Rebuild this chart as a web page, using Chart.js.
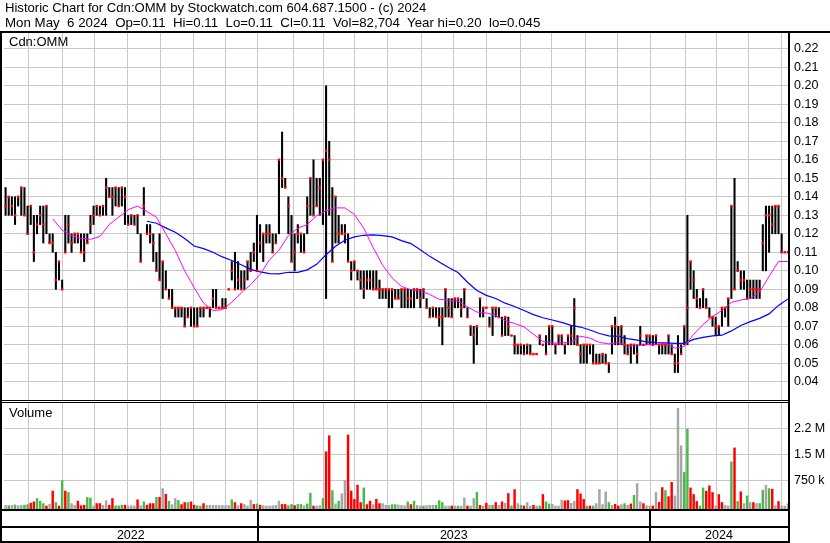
<!DOCTYPE html>
<html>
<head>
<meta charset="utf-8">
<script src="https://cdn.jsdelivr.net/npm/chart.js@4.4.1/dist/chart.umd.min.js"></script>
<style>
html,body{margin:0;padding:0;background:#fff;}
#wrap{position:relative;width:830px;height:543px;overflow:hidden;background:#fff;}
.hdr{position:absolute;left:5px;font-family:"Liberation Sans",Arial,sans-serif;line-height:14.5px;white-space:pre;color:#000;}
#h1{top:1px;font-size:13.1px;}
#h2{top:15.5px;font-size:13.3px;}
canvas{position:absolute;left:0;top:0;}
</style>
</head>
<body>
<div id="wrap">
<canvas id="c" width="830" height="543"></canvas>
<div class="hdr" id="h1">Historic Chart for Cdn:OMM by Stockwatch.com 604.687.1500 - (c) 2024</div>
<div class="hdr" id="h2">Mon May  6 2024  Op=0.11  Hi=0.11  Lo=0.11  Cl=0.11  Vol=82,704  Year hi=0.20  lo=0.045</div>
</div>
<script>
// ---- data (one bar = two trading days, May 2022 .. May 6 2024) ----
const symbol = 'Cdn:OMM';
const high = [
.145,.14,.14,.14,.14,.145,.145,.135,.135,.13, .13,.135,.135,.135,.12,.12,.11,.105,.095,.13,
.13,.12,.12,.12,.12,.12,.12,.13,.135,.135, .135,.135,.15,.145,.145,.145,.145,.145,.145,.13,
.13,.13,.13,.12,.145,.125,.125,.12,.11,.12, .105,.10,.09,.09,.08,.08,.08,.08,.08,.08,
.08,.08,.08,.08,.08,.08,.09,.09,.08,.085, .085,.09,.105,.11,.105,.10,.10,.105,.11,.115,
.13,.125,.12,.125,.125,.12,.12,.16,.175,.15, .14,.13,.12,.125,.12,.12,.14,.15,.16,.15,
.15,.16,.20,.17,.145,.14,.13,.125,.125,.12, .105,.105,.10,.10,.10,.10,.10,.10,.10,.095,
.09,.09,.09,.09,.09,.09,.09,.09,.09,.09, .09,.09,.09,.09,.085,.08,.08,.08,.08,.08,
.09,.085,.085,.085,.085,.085,.09,.08,.07,.07, .07,.085,.08,.08,.075,.08,.08,.08,.075,.075,
.075,.065,.065,.06,.06,.06,.06,.06,.055,.055, .065,.06,.065,.07,.07,.06,.065,.065,.06,.065,
.07,.085,.065,.06,.06,.06,.06,.06,.055,.055, .055,.055,.05,.07,.075,.07,.07,.065,.06,.06,
.06,.06,.07,.06,.065,.065,.065,.065,.06,.06, .06,.065,.06,.055,.065,.06,.07,.13,.105,.10,
.09,.085,.09,.085,.08,.075,.075,.07,.08,.08, .085,.135,.15,.105,.10,.10,.095,.095,.095,.095,
.095,.125,.135,.135,.135,.135,.135,.12,.11,.11
];
const low = [
.13,.13,.13,.125,.135,.13,.13,.12,.125,.105, .12,.125,.115,.12,.115,.11,.09,.095,.09,.11,
.115,.11,.115,.115,.11,.105,.115,.12,.125,.13, .13,.13,.13,.14,.13,.135,.135,.135,.125,.125,
.125,.125,.12,.105,.13,.12,.115,.105,.10,.095, .085,.09,.085,.08,.075,.075,.075,.07,.075,.07,
.07,.07,.075,.075,.08,.075,.08,.08,.08,.08, .08,.09,.095,.09,.09,.09,.09,.095,.10,.105,
.10,.11,.105,.115,.115,.11,.115,.12,.145,.145, .12,.105,.10,.115,.11,.11,.12,.13,.13,.135,
.13,.125,.085,.13,.105,.115,.115,.12,.115,.105, .095,.10,.095,.09,.085,.09,.09,.09,.09,.085,
.085,.085,.08,.08,.085,.085,.08,.08,.08,.08, .08,.085,.08,.085,.08,.075,.075,.075,.07,.06,
.075,.075,.075,.08,.08,.075,.08,.075,.065,.05, .06,.075,.075,.08,.07,.065,.075,.075,.065,.065,
.065,.065,.055,.055,.055,.055,.055,.055,.055,.055, .06,.06,.055,.06,.06,.055,.06,.06,.055,.06,
.06,.06,.06,.05,.05,.05,.055,.05,.05,.05, .05,.05,.045,.055,.06,.06,.06,.055,.055,.05,
.055,.05,.06,.06,.06,.06,.06,.06,.055,.055, .055,.055,.055,.045,.045,.055,.06,.06,.09,.085,
.08,.08,.08,.08,.075,.07,.065,.065,.07,.075, .07,.085,.09,.10,.09,.09,.085,.085,.085,.085,
.085,.10,.10,.11,.12,.12,.12,.11,.11,.11
];
const close = [
.135,.14,.135,.13,.14,.145,.13,.12,.135,.11, .125,.13,.125,.135,.115,.115,.095,.105,.09,.11,
.125,.115,.12,.12,.11,.11,.115,.125,.13,.135, .13,.135,.145,.14,.14,.145,.135,.145,.14,.125,
.13,.125,.13,.105,.135,.12,.12,.115,.10,.095, .105,.09,.085,.08,.08,.08,.08,.07,.075,.08,
.07,.07,.08,.08,.08,.08,.085,.08,.08,.08, .08,.09,.10,.09,.095,.09,.095,.105,.10,.11,
.10,.115,.12,.12,.12,.11,.115,.16,.15,.145, .135,.105,.11,.12,.12,.11,.135,.15,.13,.135,
.145,.16,.165,.16,.105,.14,.12,.12,.12,.105, .10,.105,.10,.095,.09,.095,.095,.09,.09,.09,
.09,.09,.09,.09,.085,.085,.09,.09,.085,.085, .09,.09,.085,.09,.08,.075,.08,.075,.075,.075,
.09,.08,.075,.085,.085,.08,.09,.075,.07,.065, .07,.085,.08,.08,.07,.08,.08,.075,.065,.075,
.07,.065,.06,.06,.06,.055,.06,.055,.055,.055, .065,.06,.055,.07,.07,.06,.065,.065,.06,.065,
.065,.08,.06,.055,.06,.06,.06,.05,.05,.05, .055,.05,.05,.07,.07,.065,.07,.06,.055,.06,
.06,.055,.065,.06,.065,.065,.06,.065,.06,.06, .06,.065,.055,.05,.05,.055,.07,.08,.105,.095,
.085,.08,.09,.08,.075,.075,.07,.07,.08,.08, .085,.135,.09,.10,.095,.095,.085,.09,.09,.09,
.09,.115,.13,.13,.125,.135,.135,.11,.11,.11
];
// volume in thousands of shares
const volK = [
40,30,40,50,30,40,45,60,100,140, 235,160,90,20,70,450,120,20,750,450,
410,90,40,160,30,45,270,250,20,90, 90,40,175,40,235,25,25,45,45,20,
30,20,200,30,140,45,90,90,270,270, 520,360,160,60,235,180,60,120,120,140,
45,30,20,90,40,40,40,40,30,40, 30,40,200,120,30,90,65,20,190,65,
80,45,30,20,20,30,40,160,65,65, 30,65,30,65,65,30,80,390,20,20,
30,235,1580,2040,465,80,160,370,750,2060, 450,210,620,120,540,60,160,60,215,90,
90,40,40,60,60,50,40,30,139,60, 160,40,20,20,30,40,40,40,175,120,
20,20,20,20,20,20,255,20,20,235, 410,40,20,100,40,40,120,40,140,100,
380,25,495,90,40,20,120,20,40,20, 20,350,140,80,70,20,20,190,170,180,
100,160,495,370,210,20,20,20,90,495, 60,425,120,40,70,20,60,90,40,80,
330,665,140,90,30,20,20,410,130,550, 465,290,700,310,2830,1750,985,2230,540,350,
150,20,540,445,600,410,20,350,120,40, 20,1290,1690,150,430,90,310,120,120,90,
90,475,620,520,505,30,150,20,20,82.704
];
// day direction: g = up, r = down, n = unchanged
const volDir =
"ngngnnggrr"+"gggrnrgrgr"+"gnnrrrggnr"+"rnnrrgggrn"+"nnrngrrrgr"+
"nrgnngrrgr"+"rggrnnnnnn"+"nngrnrnnnr"+"grnnnnnnrr"+"ggrggnggrn"+
"ngrrgngnnr"+"rrrrgrrnrr"+"nnnggnnngr"+"gnngnnnggg"+"nnrngnnrnn"+
"grnrngrnrn"+"rgrngrnnrn"+"grggnnnnrr"+"nnrrrgrgnn"+"nngnrrngnr"+
"gnnrnnrnrr"+"grrnnnggrr"+"rggrrrnrrn"+"ngrgrngnrn"+"ggngrnrnnn";
// moving averages, one value every 3 bars
const maStep = 3;
const maShort = [
null,null,null,null,null,.128,.122,.119,.1175,.117,
.1185,.125,.129,.133,.135,.132,.129,.12,.111,.10,
.091,.0825,.0785,.079,.083,.088,.0925,.098,.106,.111,
.119,.123,.125,.1297,.1325,.134,.134,.1305,.123,.1125,
.103,.0962,.0915,.0898,.0892,.0872,.0846,.0841,.0835,.0805,
.0777,.0772,.0759,.073,.0715,.0697,.0657,.0618,.061,.061,
.0615,.0646,.0636,.0613,.0605,.0612,.0592,.0595,.0601,.0601,
.0608,.0582,.059,.0657,.071,.0752,.0786,.0829,.0842,.0851,
.0885,.097,.105,.105
];
const maLong = [
null,null,null,null,null,null,null,null,null,null,
null,null,null,null,null,.1268,.1257,.1232,.1208,.1174,
.1134,.112,.110,.1075,.1056,.1033,.1008,.0994,.0985,.0983,
.0992,.0992,.1005,.1035,.1087,.1133,.1165,.1183,.1192,.1194,
.119,.1183,.1163,.1147,.1114,.1078,.1048,.1018,.0991,.0938,
.0894,.0867,.085,.0825,.0807,.0785,.0763,.0746,.0734,.0721,
.0705,.0696,.068,.0661,.0648,.0646,.0633,.0625,.0616,.0612,
.061,.0608,.0608,.0629,.064,.0648,.0652,.0675,.0704,.0725,
.0743,.0767,.0813,.0848
];
// calendar: bar index where each month / year begins
const monthStartIdx = [7.4,18.2,28.4,38.9,49.3,59.8,70.0,80.2,91.5,101.1,111.2,121.4,
  132.5,142.7,153.1,163.9,173.8,184.6,194.7,205.1,216.3,226.2,236.3,246.8];
const yearStartIdx = [80.2, 205.1];
const years = ['2022','2023','2024'];
const priceTicks = [0.04,0.05,0.06,0.07,0.08,0.09,0.10,0.11,0.12,0.13,0.14,0.15,0.16,0.17,0.18,0.19,0.20,0.21,0.22];
const volTicks = [750000,1500000,2250000];
const volTickLabels = ['750 k','1.5 M','2.2 M'];

// ---- chart ----
const FONT = '"Liberation Sans", Arial, sans-serif';
Chart.defaults.font.family = FONT;
Chart.defaults.color = '#000';

const barData = high.map((h,i)=>({x:i, y:[low[i], h]}));
const closeData = close.map((c,i)=>({x:i, y:c}));
const volData = volK.map((v,i)=>({x:i, y:v*1000}));
const dirColor = {g:'#4cb84c', r:'#ff0000', n:'#a6a6a6'};
const volColors = volK.map((v,i)=>dirColor[volDir[i]]);
const maPts = arr => arr.map((v,k)=>v==null?null:{x:k*maStep, y:v}).filter(p=>p);

const GRID = '#c8c8c8';
const frame = {
  id:'frame',
  afterDraw(chart){
    const c = chart.ctx, a = chart.chartArea, xs = chart.scales.x, yp = chart.scales.y, yv = chart.scales.yv;
    const W = chart.width, H = chart.height;
    c.save();
    const sy = Math.round(yp.bottom);
    c.fillStyle = '#fff';
    c.fillRect(a.left, sy, a.right - a.left, 3);
    c.fillStyle = '#000';
    c.fillRect(0, sy, a.right, 1);
    c.fillRect(0, sy + 2, a.right, 1);
    c.fillRect(0, a.top - 2, W, 2);
    c.fillRect(0, a.top - 2, 2, H - a.top + 2);
    c.fillRect(a.right, a.top - 2, 2, H - a.top + 2);
    c.fillRect(0, a.bottom, a.right, 2);
    c.fillRect(0, a.bottom + 17, a.right, 2);
    c.fillRect(0, H - 2, a.right, 2);
    yearStartIdx.forEach(v=>{
      const px = Math.round(xs.getPixelForValue(v));
      c.fillRect(px - 1, a.bottom, 2, H - a.bottom);
    });
    const b = [xs.min, ...yearStartIdx, xs.max];
    c.font = '12.5px ' + FONT;
    c.textAlign = 'center';
    c.textBaseline = 'middle';
    years.forEach((y,j)=>{
      const x0 = xs.getPixelForValue(b[j]), x1 = xs.getPixelForValue(b[j+1]);
      c.fillText(y, (x0 + x1) / 2, a.bottom + 27);
    });
    c.textAlign = 'left';
    c.font = '13px ' + FONT;
    c.fillText(symbol, 9, a.top + 9);
    c.fillText('Volume', 9, yv.top + 13);
    c.restore();
  }
};

new Chart(document.getElementById('c'), {
  type:'bar',
  data:{
    datasets:[
      {type:'scatter', data:closeData, yAxisID:'y', pointStyle:'rect', pointRadius:1.7,
       pointBorderWidth:0, backgroundColor:'#ff0000', borderColor:'#ff0000', order:0},
      {type:'line', data:maPts(maShort), yAxisID:'y', borderColor:'#ff00ff', borderWidth:1,
       pointRadius:0, tension:0, fill:false, order:1},
      {type:'line', data:maPts(maLong), yAxisID:'y', borderColor:'#0000ff', borderWidth:1.2,
       pointRadius:0, tension:0, fill:false, order:1},
      {type:'bar', data:barData, yAxisID:'y', backgroundColor:'#000', barThickness:1.4,
       grouped:false, order:3},
      {type:'bar', data:volData, yAxisID:'yv', backgroundColor:volColors, barThickness:1.8,
       grouped:false, base:-66000, order:3}
    ]
  },
  plugins:[frame],
  options:{
    responsive:false,
    animation:false,
    devicePixelRatio:1,
    layout:{padding:{left:2, top:33, bottom:34, right:0}},
    plugins:{legend:{display:false}, tooltip:{enabled:false}},
    scales:{
      x:{type:'linear', min:-0.508, max:249.02, offset:false, position:'bottom',
        grid:{color:GRID, drawTicks:false, offset:false, lineWidth:1},
        border:{display:false},
        ticks:{display:false},
        afterBuildTicks:s=>{ s.ticks = monthStartIdx.map(v=>({value:v})); },
        afterFit:s=>{ s.height = 0; }
      },
      y:{type:'linear', position:'right', stack:'panels', stackWeight:367,
        min:0.03016, max:0.22854, beginAtZero:false,
        grid:{color:GRID, drawTicks:false, lineWidth:1},
        border:{display:false},
        ticks:{autoSkip:false, padding:6, font:{size:12.5}, color:'#000',
          callback:v=>Number(v).toFixed(2)},
        afterBuildTicks:s=>{ s.ticks = priceTicks.map(v=>({value:v})); },
        afterFit:s=>{ s.width = 42; }
      },
      yv:{type:'linear', position:'right', stack:'panels', stackWeight:109,
        min:-66000, max:3067000, beginAtZero:false,
        grid:{color:GRID, drawTicks:false, lineWidth:1},
        border:{display:false},
        ticks:{autoSkip:false, padding:6, font:{size:12.5}, color:'#000',
          callback:v=>{ const k = volTicks.indexOf(v); return k >= 0 ? volTickLabels[k] : ''; }},
        afterBuildTicks:s=>{ s.ticks = volTicks.map(v=>({value:v})); },
        afterFit:s=>{ s.width = 42; }
      }
    }
  }
});
</script>
</body>
</html>
